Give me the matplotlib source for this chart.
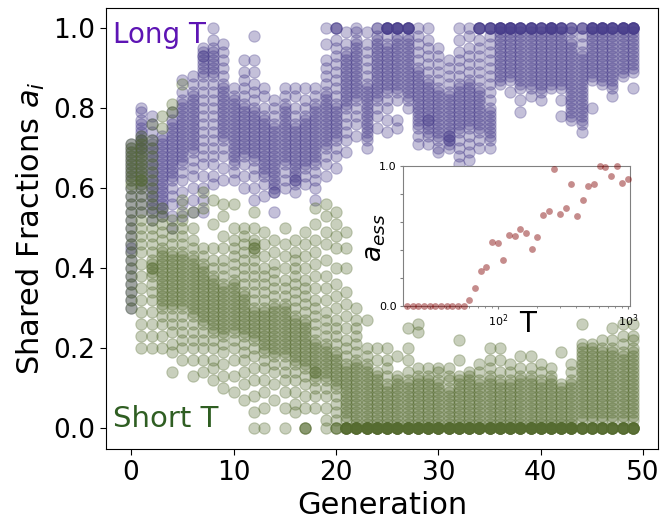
import matplotlib
matplotlib.use("Agg")
import matplotlib.pyplot as plt
import numpy as np

# ---------------- data ----------------
generations = list(range(50))

# Long T shared fractions (per generation, excluding the extra points at exactly 1.0)
long_vals = [
    [0.71,0.70,0.69,0.68,0.67,0.66,0.65,0.64,0.63,0.62,0.60,0.58,0.56,0.54,0.52,0.50,0.48,0.46,0.45,0.44,0.42,0.40,0.38,0.36,0.34,0.32,0.30],
    [0.80,0.79,0.77,0.76,0.75,0.74,0.73,0.72,0.72,0.71,0.70,0.70,0.69,0.68,0.67,0.66,0.65,0.64,0.63,0.62,0.61,0.60,0.58,0.56,0.54],
    [0.78,0.76,0.74,0.72,0.71,0.70,0.69,0.68,0.67,0.66,0.65,0.64,0.63,0.62,0.61,0.60,0.59,0.58,0.57,0.56,0.55,0.54,0.52],
    [0.73,0.72,0.71,0.70,0.69,0.68,0.67,0.66,0.65,0.64,0.63,0.62,0.61,0.60,0.59,0.58,0.57,0.56,0.55,0.54,0.53],
    [0.79,0.77,0.76,0.75,0.74,0.73,0.72,0.71,0.70,0.69,0.68,0.67,0.66,0.65,0.64,0.63,0.62,0.60,0.58,0.56,0.53,0.50],
    [0.87,0.84,0.82,0.81,0.80,0.79,0.78,0.77,0.76,0.75,0.74,0.73,0.72,0.71,0.70,0.69,0.68,0.67,0.66,0.64,0.62,0.59,0.56,0.53],
    [0.88,0.86,0.84,0.83,0.82,0.81,0.80,0.79,0.78,0.77,0.76,0.75,0.74,0.73,0.72,0.71,0.70,0.69,0.67,0.65,0.63,0.60,0.57,0.54],
    [0.95,0.94,0.93,0.93,0.92,0.91,0.90,0.89,0.88,0.86,0.84,0.82,0.80,0.78,0.76,0.74,0.72,0.70,0.68,0.66,0.63,0.60,0.57,0.54],
    [1.00,0.97,0.95,0.94,0.93,0.92,0.91,0.90,0.89,0.88,0.86,0.84,0.82,0.80,0.78,0.76,0.74,0.72,0.70,0.68,0.66,0.63,0.61],
    [0.96,0.94,0.92,0.90,0.88,0.86,0.85,0.84,0.83,0.82,0.81,0.80,0.79,0.78,0.77,0.76,0.75,0.74,0.73,0.72,0.70,0.68,0.65,0.62],
    [0.85,0.83,0.82,0.81,0.80,0.79,0.78,0.77,0.76,0.75,0.74,0.73,0.72,0.71,0.70,0.69,0.68,0.67,0.66,0.64,0.62],
    [0.92,0.89,0.87,0.85,0.83,0.81,0.80,0.79,0.78,0.77,0.76,0.75,0.74,0.73,0.72,0.71,0.70,0.69,0.68,0.66,0.63,0.60],
    [0.98,0.92,0.89,0.86,0.84,0.82,0.80,0.79,0.78,0.77,0.76,0.75,0.74,0.73,0.72,0.71,0.70,0.69,0.68,0.67,0.65,0.63,0.60,0.57],
    [0.85,0.83,0.80,0.78,0.77,0.76,0.75,0.74,0.73,0.72,0.71,0.70,0.69,0.68,0.67,0.66,0.65,0.64,0.63,0.61,0.58],
    [0.82,0.80,0.78,0.76,0.75,0.74,0.73,0.72,0.71,0.70,0.69,0.68,0.67,0.66,0.65,0.64,0.63,0.62,0.61,0.60,0.59,0.59,0.54],
    [0.85,0.83,0.81,0.80,0.79,0.78,0.77,0.76,0.75,0.74,0.73,0.72,0.71,0.70,0.69,0.68,0.67,0.66,0.64,0.62,0.60],
    [0.85,0.83,0.80,0.78,0.76,0.75,0.74,0.73,0.72,0.71,0.70,0.69,0.68,0.67,0.66,0.65,0.64,0.63,0.62,0.62,0.61,0.59],
    [0.85,0.82,0.80,0.78,0.77,0.76,0.75,0.74,0.73,0.72,0.71,0.70,0.69,0.68,0.67,0.66,0.65,0.63,0.61],
    [0.85,0.83,0.81,0.80,0.79,0.78,0.77,0.76,0.75,0.74,0.73,0.72,0.71,0.70,0.69,0.68,0.67,0.66,0.64,0.62,0.60,0.57],
    [1.00,0.96,0.92,0.90,0.88,0.86,0.84,0.83,0.82,0.81,0.80,0.79,0.78,0.77,0.76,0.75,0.74,0.73,0.72,0.71,0.70,0.68,0.66,0.63],
    [0.97,0.95,0.93,0.91,0.89,0.87,0.85,0.83,0.81,0.80,0.79,0.78,0.77,0.76,0.75,0.74,0.73,0.72,0.70,0.68,0.65],
    [0.99,0.96,0.94,0.93,0.92,0.91,0.90,0.89,0.88,0.87,0.86,0.85,0.84,0.83,0.82,0.81,0.80,0.78,0.76,0.74,0.72,0.69],
    [0.99,0.97,0.96,0.95,0.94,0.93,0.92,0.91,0.90,0.89,0.88,0.87,0.86,0.85,0.84,0.83,0.82,0.80,0.78,0.76,0.73],
    [0.99,0.96,0.94,0.92,0.90,0.88,0.86,0.85,0.84,0.83,0.82,0.81,0.80,0.79,0.78,0.77,0.76,0.75,0.74,0.73,0.72,0.70],
    [0.98,0.97,0.96,0.95,0.94,0.93,0.92,0.91,0.90,0.89,0.88,0.87,0.86,0.85,0.84,0.83,0.82,0.80,0.78,0.75],
    [0.98,0.96,0.95,0.94,0.93,0.92,0.91,0.90,0.89,0.88,0.87,0.86,0.85,0.84,0.82,0.80,0.77,0.74],
    [0.98,0.97,0.96,0.95,0.94,0.93,0.92,0.91,0.90,0.89,0.88,0.87,0.86,0.85,0.84,0.82,0.77,0.75],
    [0.98,0.97,0.96,0.95,0.94,0.93,0.92,0.91,0.90,0.89,0.88,0.87,0.86,0.85,0.84,0.83,0.82,0.80],
    [0.98,0.96,0.94,0.92,0.90,0.89,0.88,0.87,0.86,0.85,0.84,0.83,0.82,0.81,0.80,0.79,0.78,0.77,0.76,0.75,0.73,0.71],
    [0.97,0.95,0.93,0.91,0.89,0.87,0.86,0.85,0.84,0.83,0.82,0.81,0.80,0.79,0.78,0.77,0.77,0.76,0.75,0.74,0.73,0.71],
    [0.95,0.93,0.91,0.89,0.87,0.85,0.84,0.83,0.82,0.81,0.80,0.79,0.78,0.77,0.76,0.75,0.74,0.73,0.72,0.70,0.69],
    [0.92,0.90,0.88,0.86,0.84,0.83,0.82,0.81,0.80,0.79,0.78,0.77,0.76,0.75,0.74,0.73,0.73,0.72,0.72,0.71,0.70],
    [0.97,0.94,0.92,0.90,0.88,0.86,0.85,0.84,0.83,0.82,0.81,0.80,0.79,0.78,0.77,0.76,0.75,0.74,0.72,0.70,0.68,0.66],
    [0.98,0.95,0.93,0.91,0.89,0.87,0.86,0.85,0.84,0.83,0.82,0.81,0.80,0.79,0.78,0.77,0.76,0.75,0.73,0.71,0.69,0.67],
    [0.97,0.95,0.93,0.91,0.89,0.87,0.85,0.84,0.83,0.82,0.81,0.80,0.79,0.78,0.77,0.76,0.75,0.74,0.72,0.70],
    [0.98,0.96,0.94,0.92,0.90,0.88,0.86,0.84,0.82,0.80,0.79,0.78,0.77,0.76,0.75,0.74,0.73,0.72,0.70],
    [0.99,0.98,0.97,0.96,0.95,0.94,0.93,0.92,0.91,0.90,0.89,0.88,0.87,0.86],
    [0.99,0.98,0.97,0.96,0.95,0.94,0.93,0.92,0.91,0.90,0.89,0.88,0.87,0.84],
    [0.99,0.98,0.97,0.96,0.95,0.94,0.93,0.92,0.91,0.90,0.89,0.88,0.87,0.86,0.85,0.82,0.79],
    [0.99,0.98,0.97,0.96,0.95,0.94,0.93,0.92,0.91,0.90,0.89,0.88,0.87,0.86,0.85,0.83],
    [0.99,0.98,0.97,0.96,0.95,0.94,0.93,0.92,0.91,0.90,0.89,0.88,0.87,0.86,0.85,0.84,0.82],
    [0.99,0.98,0.97,0.96,0.95,0.94,0.93,0.92,0.91,0.90,0.89,0.88,0.87,0.86,0.85],
    [0.99,0.98,0.97,0.96,0.95,0.94,0.93,0.92,0.91,0.90,0.89,0.88,0.87,0.86,0.85,0.82,0.78],
    [0.99,0.97,0.96,0.95,0.94,0.93,0.92,0.91,0.90,0.89,0.88,0.87,0.86,0.85,0.84,0.83,0.82,0.81,0.80,0.79,0.78,0.77],
    [0.98,0.96,0.94,0.93,0.92,0.91,0.90,0.89,0.88,0.87,0.86,0.85,0.84,0.83,0.82,0.81,0.80,0.79,0.78,0.77,0.76,0.74],
    [0.99,0.98,0.97,0.96,0.95,0.94,0.93,0.92,0.91,0.90,0.89,0.88,0.87,0.80],
    [0.99,0.98,0.97,0.96,0.95,0.94,0.93,0.92,0.91,0.90,0.89,0.88,0.87,0.86],
    [0.99,0.98,0.97,0.96,0.95,0.94,0.93,0.92,0.91,0.90,0.89,0.88,0.87,0.86,0.85,0.83],
    [0.99,0.98,0.97,0.96,0.95,0.94,0.93,0.92,0.91,0.90,0.89,0.88],
    [0.99,0.98,0.97,0.96,0.95,0.94,0.93,0.92,0.91,0.90,0.89,0.85],
]
# number of additional Long T individuals sitting exactly at 1.0
long_ones = [0,0,0,0,0,0,0,0,0,0, 0,0,0,0,0,0,0,0,0,0,
             3,0,1,0,2,6,6,6,1,1, 0,0,1,1,5,5,7,7,6,6,
             5,7,5,3,3,6,7,6,7,7]

# Short T shared fractions (per generation, excluding the extra points at exactly 0.0)
short_vals = [
    [0.71,0.70,0.69,0.68,0.67,0.66,0.65,0.64,0.63,0.62,0.61,0.60,0.58,0.56,0.54,0.52,0.50,0.48,0.46,0.44,0.42,0.40,0.38,0.36,0.34,0.32,0.30],
    [0.73,0.72,0.71,0.70,0.69,0.68,0.67,0.66,0.65,0.64,0.63,0.62,0.62,0.61,0.60,0.58,0.56,0.54,0.52,0.50,0.48,0.46,0.44,0.41,0.38,0.35,0.32,0.29,0.26,0.23,0.20],
    [0.76,0.72,0.70,0.68,0.66,0.64,0.62,0.60,0.58,0.56,0.54,0.52,0.50,0.48,0.46,0.44,0.42,0.41,0.40,0.40,0.39,0.38,0.36,0.34,0.32,0.29,0.26,0.23,0.20],
    [0.78,0.75,0.55,0.53,0.51,0.49,0.47,0.45,0.44,0.43,0.42,0.41,0.40,0.39,0.38,0.37,0.36,0.35,0.34,0.33,0.32,0.31,0.30,0.28,0.26,0.23,0.20],
    [0.81,0.79,0.52,0.50,0.48,0.46,0.44,0.43,0.42,0.41,0.40,0.39,0.38,0.37,0.36,0.35,0.34,0.33,0.32,0.31,0.30,0.28,0.26,0.24,0.21,0.19,0.14],
    [0.86,0.57,0.54,0.52,0.50,0.48,0.46,0.44,0.43,0.42,0.41,0.40,0.39,0.38,0.37,0.36,0.35,0.34,0.33,0.32,0.31,0.30,0.28,0.26,0.24,0.22,0.20,0.17],
    [0.54,0.50,0.47,0.45,0.43,0.42,0.41,0.40,0.39,0.38,0.37,0.36,0.35,0.34,0.33,0.32,0.31,0.30,0.29,0.28,0.26,0.24,0.22,0.20,0.17,0.13],
    [0.59,0.55,0.45,0.43,0.41,0.40,0.39,0.38,0.37,0.36,0.35,0.34,0.33,0.32,0.31,0.30,0.29,0.28,0.27,0.26,0.24,0.22,0.20,0.17,0.14],
    [0.57,0.51,0.45,0.42,0.40,0.38,0.37,0.36,0.35,0.34,0.33,0.32,0.31,0.30,0.29,0.28,0.27,0.26,0.25,0.24,0.22,0.20,0.17,0.15,0.12],
    [0.56,0.53,0.48,0.45,0.42,0.40,0.38,0.36,0.35,0.34,0.33,0.32,0.31,0.30,0.29,0.28,0.27,0.26,0.25,0.24,0.23,0.21,0.19,0.16,0.13,0.10],
    [0.56,0.50,0.47,0.45,0.43,0.41,0.39,0.37,0.36,0.35,0.34,0.33,0.32,0.31,0.30,0.29,0.28,0.27,0.26,0.25,0.24,0.22,0.20,0.17,0.13,0.09],
    [0.50,0.48,0.46,0.44,0.42,0.40,0.38,0.36,0.34,0.33,0.32,0.31,0.30,0.29,0.28,0.27,0.26,0.25,0.24,0.23,0.21,0.19,0.17,0.14,0.11,0.07],
    [0.54,0.50,0.47,0.46,0.45,0.45,0.44,0.42,0.40,0.38,0.36,0.34,0.32,0.30,0.29,0.28,0.27,0.26,0.25,0.24,0.23,0.22,0.20,0.18,0.15,0.12,0.08,0.04],
    [0.49,0.46,0.43,0.40,0.38,0.36,0.34,0.32,0.30,0.29,0.28,0.27,0.26,0.25,0.24,0.23,0.22,0.21,0.20,0.19,0.17,0.15,0.12,0.09,0.05],
    [0.47,0.44,0.41,0.39,0.37,0.35,0.33,0.31,0.30,0.29,0.28,0.27,0.26,0.25,0.24,0.23,0.22,0.21,0.20,0.19,0.18,0.16,0.14,0.11,0.07],
    [0.50,0.46,0.43,0.40,0.37,0.35,0.33,0.31,0.30,0.29,0.28,0.27,0.26,0.25,0.24,0.23,0.22,0.21,0.20,0.19,0.18,0.16,0.14,0.12,0.09,0.05],
    [0.47,0.44,0.42,0.40,0.38,0.36,0.34,0.32,0.30,0.28,0.27,0.26,0.25,0.24,0.23,0.22,0.21,0.20,0.19,0.18,0.17,0.16,0.14,0.12,0.09,0.06,0.04],
    [0.49,0.46,0.43,0.40,0.37,0.35,0.33,0.31,0.29,0.27,0.26,0.25,0.24,0.23,0.22,0.21,0.20,0.19,0.18,0.17,0.16,0.15,0.13,0.11,0.08,0.05],
    [0.55,0.51,0.47,0.44,0.41,0.38,0.35,0.32,0.30,0.28,0.26,0.24,0.22,0.21,0.20,0.19,0.18,0.17,0.16,0.15,0.14,0.14,0.13,0.12,0.10,0.08,0.05],
    [0.56,0.53,0.49,0.46,0.42,0.38,0.35,0.32,0.29,0.27,0.25,0.23,0.21,0.20,0.19,0.18,0.17,0.16,0.15,0.14,0.13,0.12,0.10,0.08,0.05,0.02],
    [0.54,0.51,0.48,0.45,0.40,0.36,0.33,0.30,0.27,0.25,0.23,0.21,0.19,0.18,0.17,0.16,0.15,0.14,0.13,0.12,0.11,0.10,0.08,0.06,0.04,0.02],
    [0.49,0.45,0.40,0.34,0.31,0.28,0.25,0.22,0.20,0.18,0.16,0.15,0.14,0.13,0.12,0.11,0.10,0.09,0.08,0.07,0.06,0.05,0.04,0.03,0.02],
    [0.30,0.27,0.25,0.23,0.21,0.19,0.17,0.16,0.15,0.14,0.13,0.12,0.11,0.10,0.09,0.08,0.07,0.06,0.05,0.04,0.03,0.02,0.01],
    [0.27,0.20,0.18,0.16,0.15,0.14,0.13,0.12,0.11,0.10,0.09,0.08,0.07,0.06,0.05,0.04,0.03,0.02,0.01],
    [0.20,0.17,0.14,0.13,0.12,0.11,0.10,0.09,0.08,0.07,0.06,0.05,0.04,0.03,0.02,0.01],
    [0.20,0.17,0.15,0.13,0.11,0.10,0.09,0.08,0.07,0.06,0.05,0.04,0.03,0.02,0.01],
    [0.18,0.13,0.12,0.11,0.10,0.09,0.08,0.07,0.06,0.05,0.04,0.03,0.02,0.01],
    [0.25,0.20,0.17,0.14,0.12,0.11,0.10,0.09,0.08,0.07,0.06,0.05,0.04,0.03,0.02,0.01],
    [0.26,0.24,0.15,0.13,0.12,0.11,0.10,0.09,0.08,0.07,0.06,0.05,0.04,0.03,0.02,0.01],
    [0.15,0.13,0.12,0.11,0.10,0.09,0.08,0.07,0.06,0.05,0.04,0.03,0.02,0.01],
    [0.15,0.14,0.12,0.11,0.10,0.09,0.08,0.07,0.06,0.05,0.04,0.03,0.02,0.01],
    [0.15,0.13,0.12,0.10,0.09,0.08,0.07,0.06,0.05,0.04,0.03,0.02,0.01],
    [0.22,0.17,0.13,0.12,0.11,0.10,0.09,0.08,0.07,0.06,0.05,0.04,0.03,0.02,0.01],
    [0.14,0.13,0.12,0.11,0.10,0.09,0.08,0.07,0.06,0.05,0.04,0.03,0.02,0.01],
    [0.16,0.14,0.12,0.11,0.10,0.09,0.08,0.07,0.06,0.05,0.04,0.03,0.02,0.01],
    [0.20,0.17,0.15,0.13,0.12,0.11,0.10,0.09,0.08,0.07,0.06,0.05,0.04,0.03,0.02,0.01],
    [0.20,0.17,0.14,0.12,0.11,0.10,0.09,0.08,0.07,0.06,0.05,0.04,0.03,0.02,0.01],
    [0.16,0.14,0.12,0.11,0.10,0.09,0.08,0.07,0.06,0.05,0.04,0.03,0.02,0.01],
    [0.18,0.15,0.13,0.12,0.11,0.10,0.09,0.08,0.07,0.06,0.05,0.04,0.03,0.02,0.01],
    [0.18,0.15,0.13,0.12,0.11,0.10,0.09,0.08,0.07,0.06,0.05,0.04,0.03,0.02,0.01],
    [0.16,0.14,0.12,0.11,0.10,0.09,0.08,0.07,0.06,0.05,0.04,0.03,0.02,0.01],
    [0.15,0.13,0.12,0.11,0.10,0.09,0.08,0.07,0.06,0.05,0.04,0.03,0.02,0.01],
    [0.19,0.11,0.10,0.09,0.08,0.07,0.06,0.05,0.04,0.03,0.02,0.01],
    [0.16,0.14,0.12,0.11,0.10,0.09,0.08,0.07,0.06,0.05,0.04,0.03,0.02,0.01],
    [0.26,0.21,0.20,0.19,0.18,0.17,0.16,0.15,0.14,0.13,0.12,0.11,0.10,0.09,0.08,0.07,0.06,0.05,0.04,0.03,0.02],
    [0.21,0.20,0.19,0.18,0.17,0.16,0.15,0.14,0.13,0.12,0.11,0.10,0.09,0.08,0.07,0.06,0.05,0.04,0.03,0.02],
    [0.22,0.20,0.19,0.18,0.17,0.16,0.15,0.14,0.13,0.12,0.11,0.10,0.09,0.08,0.07,0.06,0.05,0.04,0.03,0.02],
    [0.25,0.22,0.20,0.19,0.18,0.17,0.16,0.15,0.14,0.13,0.12,0.11,0.10,0.09,0.08,0.07,0.06,0.05,0.04,0.03,0.02],
    [0.26,0.23,0.21,0.19,0.18,0.17,0.16,0.15,0.14,0.13,0.12,0.11,0.10,0.09,0.08,0.07,0.06,0.05,0.04,0.03,0.02],
    [0.26,0.23,0.22,0.20,0.19,0.18,0.17,0.16,0.15,0.14,0.13,0.12,0.11,0.10,0.09,0.08,0.07,0.06,0.05,0.04,0.03,0.02],
]
# number of additional Short T individuals sitting exactly at 0.0
short_zeros = [0,0,0,0,0,0,0,0,0,0, 0,0,1,1,0,1,0,3,0,1,
               3,8,9,10,10,10,10,10,10,10, 10,10,10,10,10,10,10,10,10,10,
               10,10,10,10,8,8,8,8,8,8]

# Inset: ESS shared fraction vs T
inset_T = [20.0,22.1,24.4,27.0,29.9,33.1,36.5,40.4,44.7,49.4,54.6,60.3,66.7,73.8,81.5,90.1,99.6,110,122,135,
           149,165,182,201,222,246,272,300,332,367,406,449,496,548,606,670,741,819,905,1000]
inset_a = [0,0,0,0,0,0,0,0,0,0,0,0.043,0.13,0.25,0.28,0.46,0.45,0.33,0.51,0.50,
           0.55,0.52,0.41,0.49,0.65,0.68,0.976,0.66,0.70,0.87,0.64,0.76,0.86,0.87,1.0,0.995,0.93,1.0,0.88,0.91]

# ---------------- plot ----------------
long_color = "darkslateblue"
short_color = "darkolivegreen"

fig = plt.figure(figsize=(6.63, 5.22), dpi=100)
ax = fig.add_axes([0.1599, 0.1408, 0.8326, 0.8433])

for g in generations:
    lv = list(long_vals[g]) + [1.0] * long_ones[g]
    ax.scatter([g] * len(lv), lv, s=66, color=long_color, alpha=0.32, linewidths=0.8)
for g in generations:
    sv = list(short_vals[g]) + [0.0] * short_zeros[g]
    ax.scatter([g] * len(sv), sv, s=66, color=short_color, alpha=0.32, linewidths=0.8)

ax.set_xlim(-2.45, 51.45)
ax.set_ylim(-0.05, 1.05)
ax.set_xticks([0, 10, 20, 30, 40, 50])
ax.set_yticks([0.0, 0.2, 0.4, 0.6, 0.8, 1.0])
ax.set_yticklabels(["0.0", "0.2", "0.4", "0.6", "0.8", "1.0"])
ax.tick_params(labelsize=19, length=4.5)
ax.set_xlabel("Generation", fontsize=22)
ax.set_ylabel("Shared Fractions $a_i$", fontsize=22)

ax.text(0.013, 0.921, "Long T", transform=ax.transAxes, fontsize=20,
        color="#5d14b4", ha="left", va="baseline")
ax.text(0.013, 0.049, "Short T", transform=ax.transAxes, fontsize=21,
        color="#2f5e22", ha="left", va="baseline")

# inset
axi = fig.add_axes([0.6078, 0.4138, 0.3424, 0.2682])
axi.scatter(inset_T, inset_a, s=24, color="maroon", alpha=0.45, linewidths=0, clip_on=False, zorder=3)
axi.set_xscale("log")
axi.set_xlim(10 ** 1.27, 10 ** 3.015)
axi.set_ylim(0, 1)
axi.set_yticks([0, 0.2, 0.4, 0.6, 0.8, 1.0])
axi.set_yticklabels(["0.0", "", "", "", "", "1.0"])
axi.tick_params(labelsize=8, length=2.5, pad=2, color="gray")
axi.tick_params(which="minor", length=1.5, color="gray")
for sp in axi.spines.values():
    sp.set_color("gray")
axi.set_xlabel("T", fontsize=20)
axi.xaxis.set_label_coords(0.55, -0.03)
axi.set_ylabel("$a_{ess}$", fontsize=19)
axi.yaxis.set_label_coords(-0.065, 0.49)

fig.savefig("out.png", dpi=100)
